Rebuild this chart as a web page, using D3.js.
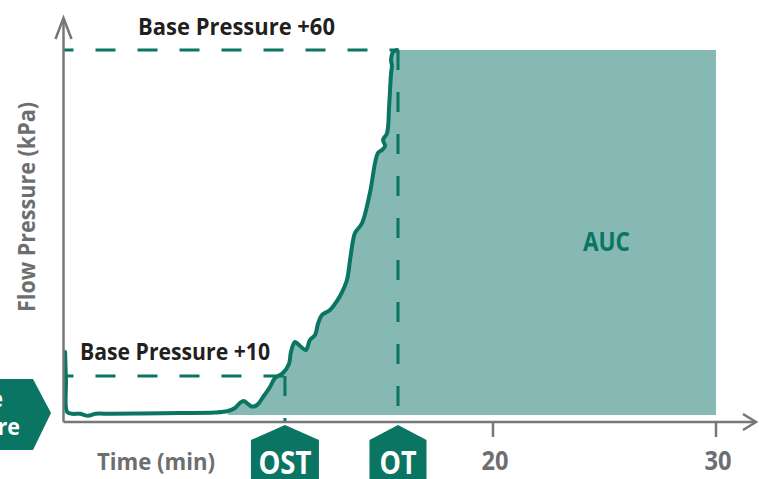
<!DOCTYPE html>
<html>
<head>
<meta charset="utf-8">
<script src="https://cdn.jsdelivr.net/npm/d3@7.9.0/dist/d3.min.js"></script>
<style>
  body { margin: 0; background: #fff; }
  svg { display: block; font-family: "Open Sans", "Noto Sans", sans-serif; }
</style>
</head>
<body>
<svg id="chart" width="759" height="479"></svg>
<script>
// curve: time (min) and pressure (kPa above an arbitrary zero)
const times = [0.81, 0.85, 0.90, 1.12, 1.48, 1.84, 2.17, 2.83, 4.17, 5.96, 7.53,
  8.12, 8.43, 8.65, 8.83, 9.01, 9.19, 9.42, 9.69, 10.0, 10.22, 10.58, 10.85, 10.94,
  11.12, 11.35, 11.61, 11.79, 12.02, 12.15, 12.33, 12.69, 13.00, 13.23, 13.45, 13.59,
  13.72, 13.81, 14.13, 14.48, 14.84, 15.02, 15.16, 15.07, 15.25, 15.34, 15.43, 15.47,
  15.43, 15.52, 15.70];
const pressures = [13.7, 9.4, 4.5, 4.2, 4.2, 3.9, 4.2, 4.2, 4.25, 4.33, 4.4,
  4.63, 5.09, 5.86, 6.17, 5.71, 5.32, 5.55, 6.78, 8.31, 9.69, 10.46, 11.84, 13.68,
  15.21, 14.6, 13.99, 15.52, 16.29, 17.98, 19.36, 20.12, 21.5, 22.88, 24.72, 27.79,
  30.71, 31.93, 33.47, 38.07, 44.2, 44.66, 45.28, 46.2, 47.27, 51.26, 56.47, 57.55,
  58.47, 59.69, 60.0];

const xTicks = [20, 30];
const baseLabels = ['Base Pressure +10', 'Base Pressure +60'];
const baseValues = [10, 60];
const eventLabels = ['OST', 'OT'];
const eventTimes = [10.67, 15.74];
const aucStart = 8.12;   // fill begins where the curve leaves the baseline
const aucEnd = 30;
const floorValue = 4.0;

const dark = '#0b7563';
const light = '#86b9b3';
const grey = '#6d6e70';
const ink = '#231f20';

let svg = d3.select('#chart');

let x = d3.scaleLinear().domain([20, 30]).range([493, 716]);
let y = d3.scaleLinear().domain([0, 60]).range([441.2, 50]);

let axisX = 63.5, axisY = 422;

let data = times.map((t, i) => ({ t: t, p: pressures[i] }));

// AUC fill: under the curve from the rise up to OT, then full height to 30 min
let fillData = data.filter(d => d.t >= aucStart);
fillData.push({ t: aucEnd, p: baseValues[1] });
let area = d3.area()
  .x(d => x(d.t))
  .y0(y(floorValue))
  .y1(d => y(d.p))
  .curve(d3.curveLinear);
svg.append('path')
  .attr('d', area(fillData))
  .attr('fill', light);

// dashed guide lines
baseValues.forEach((v, i) => {
  svg.append('line')
    .attr('x1', axisX).attr('x2', x(eventTimes[i]))
    .attr('y1', y(v)).attr('y2', y(v))
    .attr('stroke', dark).attr('stroke-width', 3)
    .attr('stroke-dasharray', '20,22').attr('stroke-dashoffset', 10);
  svg.append('line')
    .attr('x1', x(eventTimes[i])).attr('x2', x(eventTimes[i]))
    .attr('y1', y(v)).attr('y2', axisY)
    .attr('stroke', dark).attr('stroke-width', 3)
    .attr('stroke-dasharray', '20,22');
});

// pressure curve
let line = d3.line()
  .x(d => x(d.t))
  .y(d => y(d.p))
  .curve(d3.curveCatmullRom.alpha(0.5));
svg.append('path')
  .attr('d', line(data))
  .attr('fill', 'none')
  .attr('stroke', dark)
  .attr('stroke-width', 4)
  .attr('stroke-linejoin', 'round')
  .attr('stroke-linecap', 'round');

// axes with arrow heads
let axes = svg.append('g').attr('stroke', '#76777a').attr('stroke-width', 2.5).attr('fill', 'none');
axes.append('path').attr('d', `M${axisX},${axisY}V18`);
axes.append('path').attr('d', `M${axisX - 8},39L${axisX},18L${axisX + 8},39`);
axes.append('path').attr('d', `M${axisX},${axisY}H756`);
axes.append('path').attr('d', `M743,${axisY - 8}L756,${axisY}L743,${axisY + 8}`);

xTicks.forEach(t => {
  axes.append('line')
    .attr('x1', x(t)).attr('x2', x(t))
    .attr('y1', axisY).attr('y2', axisY + 15);
  svg.append('text')
    .attr('x', x(t) + 2).attr('y', 470)
    .attr('text-anchor', 'middle')
    .attr('font-size', 26).attr('font-weight', 700)
    .attr('fill', grey)
    .attr('textLength', 27).attr('lengthAdjust', 'spacingAndGlyphs')
    .text(t);
});

svg.append('text')
  .attr('x', 97).attr('y', 470)
  .attr('font-size', 24).attr('font-weight', 700).attr('fill', grey)
  .attr('textLength', 118).attr('lengthAdjust', 'spacingAndGlyphs')
  .text('Time (min)');

svg.append('text')
  .attr('transform', 'translate(35,312) rotate(-90)')
  .attr('font-size', 24).attr('font-weight', 700).attr('fill', grey)
  .attr('textLength', 210).attr('lengthAdjust', 'spacingAndGlyphs')
  .text('Flow Pressure (kPa)');

// base pressure labels
let labelPos = [{ x: 80, y: 360, w: 190 }, { x: 138, y: 35, w: 197 }];
baseLabels.forEach((s, i) => {
  svg.append('text')
    .attr('x', labelPos[i].x).attr('y', labelPos[i].y)
    .attr('font-size', 24).attr('font-weight', 700).attr('fill', ink)
    .attr('textLength', labelPos[i].w).attr('lengthAdjust', 'spacingAndGlyphs')
    .text(s);
});

svg.append('text')
  .attr('x', 583).attr('y', 251)
  .attr('font-size', 27).attr('font-weight', 700).attr('fill', dark)
  .attr('textLength', 47).attr('lengthAdjust', 'spacingAndGlyphs')
  .text('AUC');

// OST / OT badges
let badgeHalf = [34, 28.5];
let badgeText = [53, 37];
eventLabels.forEach((s, i) => {
  let cx = x(eventTimes[i]), h = badgeHalf[i];
  svg.append('path')
    .attr('d', `M${cx},425L${cx + h},440V482H${cx - h}V440Z`)
    .attr('fill', dark);
  svg.append('text')
    .attr('x', cx).attr('y', 474)
    .attr('text-anchor', 'middle')
    .attr('font-size', 33).attr('font-weight', 700).attr('fill', '#fff')
    .attr('textLength', badgeText[i]).attr('lengthAdjust', 'spacingAndGlyphs')
    .text(s);
});

// base pressure badge on the left edge (cut off by the frame)
svg.append('path')
  .attr('d', 'M-10,379H33L51,413L33,450H-10Z')
  .attr('fill', dark);
svg.append('text')
  .attr('x', -47).attr('y', 407)
  .attr('font-size', 24).attr('font-weight', 700).attr('fill', '#fff')
  .attr('textLength', 50).attr('lengthAdjust', 'spacingAndGlyphs')
  .text('Base');
svg.append('text')
  .attr('x', -74).attr('y', 435)
  .attr('font-size', 24).attr('font-weight', 700).attr('fill', '#fff')
  .attr('textLength', 94).attr('lengthAdjust', 'spacingAndGlyphs')
  .text('Pressure');
</script>
</body>
</html>
